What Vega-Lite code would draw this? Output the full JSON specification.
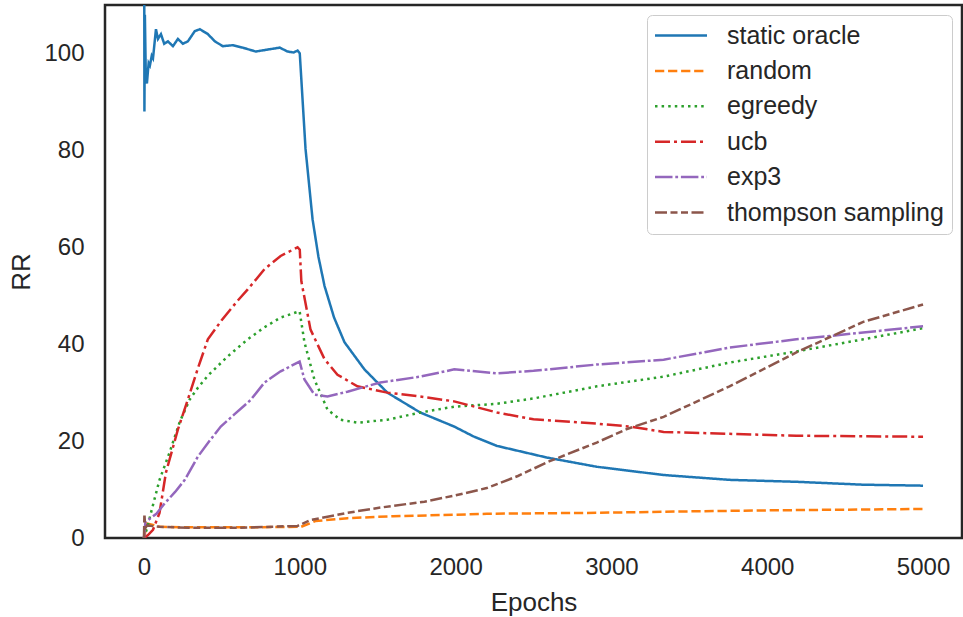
{
  "$schema": "https://vega.github.io/schema/vega-lite/v6.json",
  "width": 857,
  "height": 533,
  "autosize": {"type": "none"},
  "padding": {"left": 105, "top": 5, "right": 1, "bottom": 79},
  "background": "white",
  "config": {
    "font": "Liberation Sans",
    "view": {"stroke": "#262626", "strokeWidth": 2.5},
    "axis": {"domain": false, "grid": false, "ticks": false, "labelFont": "Liberation Sans", "titleFont": "Liberation Sans", "labelColor": "#262626", "titleColor": "#262626", "labelFontSize": 24, "titleFontSize": 26, "titleFontWeight": "normal"},
    "legend": {
      "orient": "top-right", "offset": 10, "fillColor": "white", "strokeColor": "#cccccc", "cornerRadius": 5, "padding": 8,
      "labelFont": "Liberation Sans", "labelFontSize": 25, "labelColor": "#262626", "labelLimit": 400,
      "symbolType": "M-1.25,0H3.95", "symbolSize": 400, "symbolStrokeWidth": 2.5, "symbolOffset": 0, "labelOffset": 47, "rowPadding": 9.4
    }
  },
  "data": {"values": [
    {"method":"static oracle","epoch":0,"rr":160},
    {"method":"static oracle","epoch":3,"rr":88},
    {"method":"static oracle","epoch":6,"rr":108},
    {"method":"static oracle","epoch":12,"rr":95},
    {"method":"static oracle","epoch":19,"rr":93.8},
    {"method":"static oracle","epoch":30,"rr":98},
    {"method":"static oracle","epoch":38,"rr":97.5},
    {"method":"static oracle","epoch":50,"rr":99.5},
    {"method":"static oracle","epoch":58,"rr":99},
    {"method":"static oracle","epoch":77,"rr":105},
    {"method":"static oracle","epoch":90,"rr":103},
    {"method":"static oracle","epoch":109,"rr":104},
    {"method":"static oracle","epoch":130,"rr":102},
    {"method":"static oracle","epoch":154,"rr":102.5},
    {"method":"static oracle","epoch":186,"rr":101.5},
    {"method":"static oracle","epoch":218,"rr":103},
    {"method":"static oracle","epoch":250,"rr":102},
    {"method":"static oracle","epoch":282,"rr":102.5},
    {"method":"static oracle","epoch":326,"rr":104.6},
    {"method":"static oracle","epoch":359,"rr":105},
    {"method":"static oracle","epoch":410,"rr":104},
    {"method":"static oracle","epoch":455,"rr":102.5},
    {"method":"static oracle","epoch":506,"rr":101.5},
    {"method":"static oracle","epoch":570,"rr":101.7},
    {"method":"static oracle","epoch":634,"rr":101.2},
    {"method":"static oracle","epoch":717,"rr":100.4},
    {"method":"static oracle","epoch":794,"rr":100.8},
    {"method":"static oracle","epoch":871,"rr":101.2},
    {"method":"static oracle","epoch":922,"rr":100.4},
    {"method":"static oracle","epoch":960,"rr":100.2},
    {"method":"static oracle","epoch":986,"rr":100.6},
    {"method":"static oracle","epoch":1000,"rr":100},
    {"method":"static oracle","epoch":1037,"rr":80.3},
    {"method":"static oracle","epoch":1082,"rr":65.8},
    {"method":"static oracle","epoch":1120,"rr":58},
    {"method":"static oracle","epoch":1159,"rr":52},
    {"method":"static oracle","epoch":1220,"rr":45.5},
    {"method":"static oracle","epoch":1287,"rr":40.4},
    {"method":"static oracle","epoch":1415,"rr":34.8},
    {"method":"static oracle","epoch":1562,"rr":30},
    {"method":"static oracle","epoch":1773,"rr":25.9},
    {"method":"static oracle","epoch":1991,"rr":23},
    {"method":"static oracle","epoch":2119,"rr":20.9},
    {"method":"static oracle","epoch":2266,"rr":19},
    {"method":"static oracle","epoch":2586,"rr":16.6},
    {"method":"static oracle","epoch":2906,"rr":14.7},
    {"method":"static oracle","epoch":3335,"rr":13.0},
    {"method":"static oracle","epoch":3758,"rr":12.0},
    {"method":"static oracle","epoch":4187,"rr":11.6},
    {"method":"static oracle","epoch":4616,"rr":11.0},
    {"method":"static oracle","epoch":5000,"rr":10.8},

    {"method":"random","epoch":0,"rr":0},
    {"method":"random","epoch":10,"rr":1.5},
    {"method":"random","epoch":20,"rr":3},
    {"method":"random","epoch":58,"rr":2.7},
    {"method":"random","epoch":100,"rr":2.3},
    {"method":"random","epoch":300,"rr":2.2},
    {"method":"random","epoch":600,"rr":2.2},
    {"method":"random","epoch":986,"rr":2.3},
    {"method":"random","epoch":1000,"rr":2.2},
    {"method":"random","epoch":1100,"rr":3.5},
    {"method":"random","epoch":1306,"rr":4.1},
    {"method":"random","epoch":1600,"rr":4.5},
    {"method":"random","epoch":2000,"rr":4.8},
    {"method":"random","epoch":2200,"rr":5.0},
    {"method":"random","epoch":2906,"rr":5.2},
    {"method":"random","epoch":3500,"rr":5.5},
    {"method":"random","epoch":4000,"rr":5.7},
    {"method":"random","epoch":5000,"rr":6.0},

    {"method":"egreedy","epoch":0,"rr":0},
    {"method":"egreedy","epoch":20,"rr":2},
    {"method":"egreedy","epoch":45,"rr":5.2},
    {"method":"egreedy","epoch":100,"rr":12},
    {"method":"egreedy","epoch":166,"rr":17.8},
    {"method":"egreedy","epoch":230,"rr":24},
    {"method":"egreedy","epoch":294,"rr":28.6},
    {"method":"egreedy","epoch":346,"rr":31},
    {"method":"egreedy","epoch":410,"rr":33.5},
    {"method":"egreedy","epoch":538,"rr":37.5},
    {"method":"egreedy","epoch":666,"rr":41},
    {"method":"egreedy","epoch":774,"rr":43.5},
    {"method":"egreedy","epoch":877,"rr":45.5},
    {"method":"egreedy","epoch":999,"rr":46.8},
    {"method":"egreedy","epoch":1030,"rr":40.4},
    {"method":"egreedy","epoch":1094,"rr":32.7},
    {"method":"egreedy","epoch":1178,"rr":26.5},
    {"method":"egreedy","epoch":1261,"rr":24.4},
    {"method":"egreedy","epoch":1370,"rr":23.8},
    {"method":"egreedy","epoch":1562,"rr":24.4},
    {"method":"egreedy","epoch":1773,"rr":25.9},
    {"method":"egreedy","epoch":1991,"rr":27.1},
    {"method":"egreedy","epoch":2266,"rr":27.7},
    {"method":"egreedy","epoch":2500,"rr":28.8},
    {"method":"egreedy","epoch":2906,"rr":31.3},
    {"method":"egreedy","epoch":3335,"rr":33.3},
    {"method":"egreedy","epoch":3758,"rr":36.2},
    {"method":"egreedy","epoch":4187,"rr":38.5},
    {"method":"egreedy","epoch":4616,"rr":41},
    {"method":"egreedy","epoch":5000,"rr":43.3},

    {"method":"ucb","epoch":0,"rr":0},
    {"method":"ucb","epoch":26,"rr":0.6},
    {"method":"ucb","epoch":58,"rr":1.7},
    {"method":"ucb","epoch":100,"rr":5.2},
    {"method":"ucb","epoch":141,"rr":13.5},
    {"method":"ucb","epoch":218,"rr":22.4},
    {"method":"ucb","epoch":282,"rr":28.6},
    {"method":"ucb","epoch":346,"rr":35},
    {"method":"ucb","epoch":410,"rr":41},
    {"method":"ucb","epoch":500,"rr":45},
    {"method":"ucb","epoch":602,"rr":49},
    {"method":"ucb","epoch":666,"rr":51.3},
    {"method":"ucb","epoch":774,"rr":55.5},
    {"method":"ucb","epoch":877,"rr":58.2},
    {"method":"ucb","epoch":986,"rr":60},
    {"method":"ucb","epoch":1000,"rr":59.5},
    {"method":"ucb","epoch":1010,"rr":53},
    {"method":"ucb","epoch":1069,"rr":43},
    {"method":"ucb","epoch":1159,"rr":36.9},
    {"method":"ucb","epoch":1242,"rr":33.7},
    {"method":"ucb","epoch":1370,"rr":31.3},
    {"method":"ucb","epoch":1562,"rr":30},
    {"method":"ucb","epoch":1773,"rr":29.2},
    {"method":"ucb","epoch":1991,"rr":28.2},
    {"method":"ucb","epoch":2266,"rr":25.9},
    {"method":"ucb","epoch":2500,"rr":24.5},
    {"method":"ucb","epoch":2906,"rr":23.6},
    {"method":"ucb","epoch":3118,"rr":23},
    {"method":"ucb","epoch":3335,"rr":21.9},
    {"method":"ucb","epoch":3758,"rr":21.5},
    {"method":"ucb","epoch":4187,"rr":21.1},
    {"method":"ucb","epoch":5000,"rr":20.9},

    {"method":"exp3","epoch":0,"rr":0},
    {"method":"exp3","epoch":10,"rr":3.5},
    {"method":"exp3","epoch":26,"rr":3.7},
    {"method":"exp3","epoch":80,"rr":5},
    {"method":"exp3","epoch":134,"rr":7.2},
    {"method":"exp3","epoch":200,"rr":9.5},
    {"method":"exp3","epoch":262,"rr":12},
    {"method":"exp3","epoch":346,"rr":16.8},
    {"method":"exp3","epoch":420,"rr":20},
    {"method":"exp3","epoch":493,"rr":23},
    {"method":"exp3","epoch":580,"rr":25.5},
    {"method":"exp3","epoch":685,"rr":28.5},
    {"method":"exp3","epoch":774,"rr":32.1},
    {"method":"exp3","epoch":877,"rr":34.4},
    {"method":"exp3","epoch":999,"rr":36.4},
    {"method":"exp3","epoch":1030,"rr":32.7},
    {"method":"exp3","epoch":1094,"rr":29.6},
    {"method":"exp3","epoch":1178,"rr":29.2},
    {"method":"exp3","epoch":1306,"rr":30.2},
    {"method":"exp3","epoch":1517,"rr":32.1},
    {"method":"exp3","epoch":1773,"rr":33.3},
    {"method":"exp3","epoch":1991,"rr":34.8},
    {"method":"exp3","epoch":2266,"rr":34},
    {"method":"exp3","epoch":2500,"rr":34.5},
    {"method":"exp3","epoch":2906,"rr":35.8},
    {"method":"exp3","epoch":3335,"rr":36.8},
    {"method":"exp3","epoch":3758,"rr":39.3},
    {"method":"exp3","epoch":4187,"rr":41},
    {"method":"exp3","epoch":4616,"rr":42.4},
    {"method":"exp3","epoch":5000,"rr":43.7},

    {"method":"thompson sampling","epoch":0,"rr":0},
    {"method":"thompson sampling","epoch":3,"rr":5},
    {"method":"thompson sampling","epoch":8,"rr":2},
    {"method":"thompson sampling","epoch":20,"rr":2.6},
    {"method":"thompson sampling","epoch":100,"rr":2.3},
    {"method":"thompson sampling","epoch":300,"rr":2.1},
    {"method":"thompson sampling","epoch":600,"rr":2.1},
    {"method":"thompson sampling","epoch":986,"rr":2.5},
    {"method":"thompson sampling","epoch":1069,"rr":3.7},
    {"method":"thompson sampling","epoch":1306,"rr":5.2},
    {"method":"thompson sampling","epoch":1500,"rr":6.2},
    {"method":"thompson sampling","epoch":1800,"rr":7.5},
    {"method":"thompson sampling","epoch":2000,"rr":8.8},
    {"method":"thompson sampling","epoch":2200,"rr":10.3},
    {"method":"thompson sampling","epoch":2400,"rr":12.8},
    {"method":"thompson sampling","epoch":2600,"rr":15.8},
    {"method":"thompson sampling","epoch":2906,"rr":19.7},
    {"method":"thompson sampling","epoch":3100,"rr":22.5},
    {"method":"thompson sampling","epoch":3335,"rr":25},
    {"method":"thompson sampling","epoch":3758,"rr":31.3},
    {"method":"thompson sampling","epoch":4187,"rr":38.3},
    {"method":"thompson sampling","epoch":4616,"rr":44.6},
    {"method":"thompson sampling","epoch":5000,"rr":48.2}
  ]},
  "mark": {"type": "line", "strokeWidth": 2.5, "clip": true},
  "encoding": {
    "x": {"field": "epoch", "type": "quantitative", "title": "Epochs",
      "scale": {"domain": [-250, 5250], "nice": false, "zero": false},
      "axis": {"values": [0, 1000, 2000, 3000, 4000, 5000], "format": "d", "labelPadding": 17, "titlePadding": 10}},
    "y": {"field": "rr", "type": "quantitative", "title": "RR",
      "scale": {"domain": [0, 110], "nice": false},
      "axis": {"values": [0, 20, 40, 60, 80, 100], "labelPadding": 21, "titlePadding": 9}},
    "color": {"field": "method", "type": "nominal", "title": null,
      "scale": {"domain": ["static oracle", "random", "egreedy", "ucb", "exp3", "thompson sampling"],
        "range": ["#1f77b4", "#ff7f0e", "#2ca02c", "#d62728", "#9467bd", "#8c564b"]}},
    "strokeDash": {"field": "method", "type": "nominal", "title": null,
      "scale": {"domain": ["static oracle", "random", "egreedy", "ucb", "exp3", "thompson sampling"],
        "range": [[1, 0], [9.25, 3.8], [2.5, 4.1], [15, 4, 3, 4], [17.5, 2.8, 2.8, 2.8], [12, 3.5, 7, 3.5, 7, 3.5]]}},
    "order": {"field": "epoch", "type": "quantitative"}
  }
}
